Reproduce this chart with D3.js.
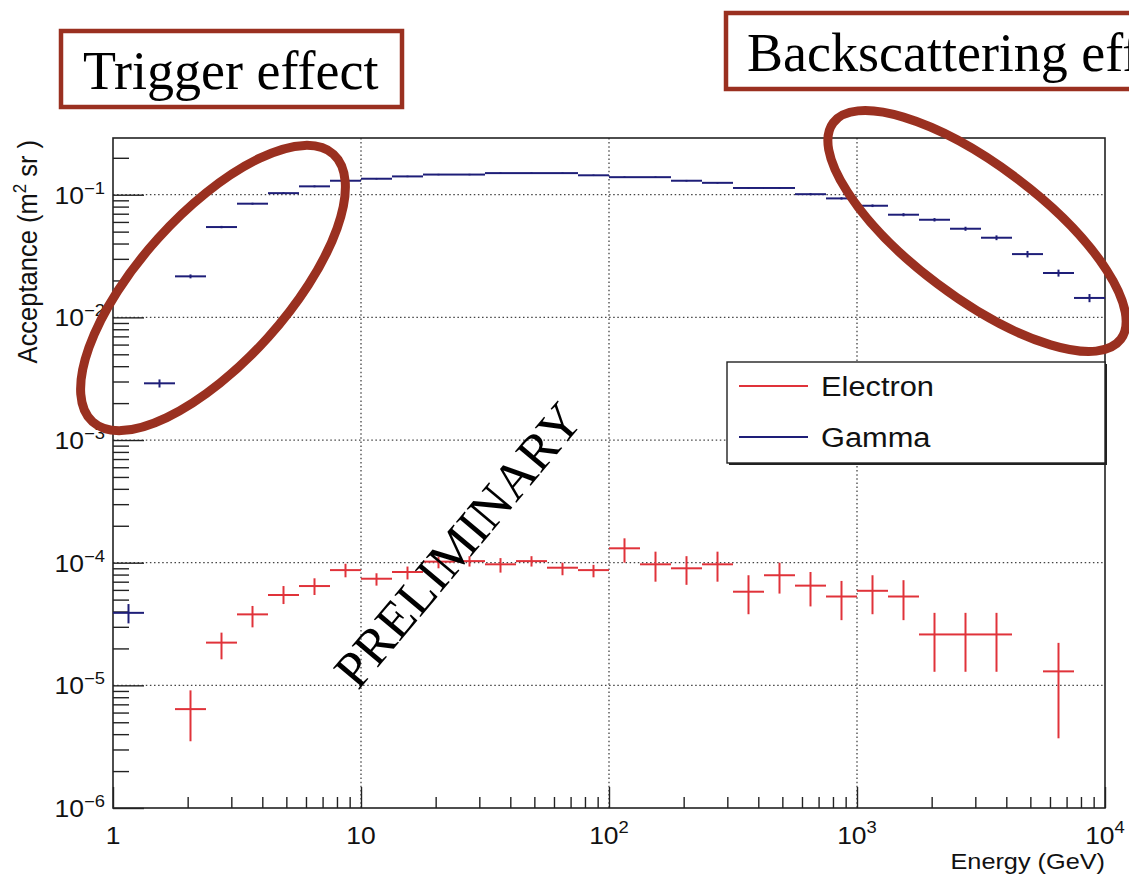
<!DOCTYPE html>
<html><head><meta charset="utf-8">
<script src="https://cdn.jsdelivr.net/npm/d3@7"></script>
<style>html,body{margin:0;padding:0;background:#fff;} svg{display:block;}</style>
</head><body>
<script>
// Energy binning: 8 logarithmic bins per decade, 1 GeV .. 10 TeV
const binsPerDecade = 8;
const nBins = 32;
const binEdges = d3.range(nBins + 1).map(i => Math.pow(10, i / binsPerDecade));

// Gamma acceptance (m^2 sr) per bin and its statistical error
const gammaAcc = [3.9e-5, 0.0029, 0.0216, 0.0545, 0.0845, 0.103, 0.117, 0.130,
  0.135, 0.141, 0.146, 0.146, 0.150, 0.150, 0.150, 0.144,
  0.139, 0.139, 0.130, 0.125, 0.1135, 0.1135, 0.101, 0.0933,
  0.0813, 0.0687, 0.0625, 0.0528, 0.0446, 0.0328, 0.0230, 0.0144];
const gammaErr = [0.7e-5, 0.00022, 0.0008, 0.0012, 0.0015, 0.0018, 0.002, 0.002,
  0.002, 0.002, 0.002, 0.002, 0.002, 0.002, 0.002, 0.002,
  0.002, 0.002, 0.002, 0.002, 0.002, 0.002, 0.002, 0.002,
  0.002, 0.002, 0.002, 0.002, 0.002, 0.002, 0.0015, 0.0011];

// Electron acceptance (m^2 sr) with upper / lower error-bar ends; null = empty bin
const electronAcc = [null, null, 6.4e-6, 2.23e-5, 3.79e-5, 5.45e-5, 6.45e-5, 8.7e-5,
  7.4e-5, 8.4e-5, 1.02e-4, 1.03e-4, 9.7e-5, 1.03e-4, 9.1e-5, 8.7e-5,
  1.31e-4, 9.7e-5, 9.0e-5, 9.7e-5, 5.8e-5, 7.9e-5, 6.5e-5, 5.3e-5,
  5.9e-5, 5.3e-5, 2.6e-5, 2.6e-5, 2.6e-5, null, 1.3e-5, null];
const electronHi = [null, null, 9.1e-6, 2.69e-5, 4.44e-5, 6.45e-5, 7.46e-5, 9.8e-5,
  8.2e-5, 9.3e-5, 1.12e-4, 1.13e-4, 1.09e-4, 1.13e-4, 1.0e-4, 9.6e-5,
  1.58e-4, 1.23e-4, 1.13e-4, 1.23e-4, 7.9e-5, 1.0e-4, 8.4e-5, 7.1e-5,
  7.9e-5, 7.2e-5, 3.9e-5, 3.9e-5, 3.9e-5, null, 2.22e-5, null];
const electronLo = [null, null, 3.5e-6, 1.63e-5, 2.97e-5, 4.6e-5, 5.45e-5, 7.6e-5,
  6.5e-5, 7.3e-5, 9.0e-5, 9.3e-5, 8.3e-5, 9.3e-5, 7.9e-5, 7.6e-5,
  1.0e-4, 7.0e-5, 6.6e-5, 7.0e-5, 3.8e-5, 5.6e-5, 4.4e-5, 3.4e-5,
  3.8e-5, 3.4e-5, 1.29e-5, 1.29e-5, 1.29e-5, null, 3.7e-6, null];

// Axis ranges and labelled ticks
const xDomain = [1, 1e4];
const yDomain = [1e-6, 0.29];
const xLabelTicks = [{v: 1, base: "1", exp: ""}, {v: 10, base: "10", exp: ""},
  {v: 100, base: "10", exp: "2"}, {v: 1000, base: "10", exp: "3"}, {v: 10000, base: "10", exp: "4"}];
const yLabelTicks = [{v: 1e-1, exp: "\u22121"}, {v: 1e-2, exp: "\u22122"}, {v: 1e-3, exp: "\u22123"},
  {v: 1e-4, exp: "\u22124"}, {v: 1e-5, exp: "\u22125"}, {v: 1e-6, exp: "\u22126"}];

const seriesNames = ["Electron", "Gamma"];
const colElectron = "#e0333a";
const colGamma = "#1e1e78";
const annoColor = "#9a3020";

const W = 1129, H = 875;
const L = 113, R = 1105, T = 138, B = 808;

const svg = d3.select("body").append("svg").attr("width", W).attr("height", H)
  .style("font-family", "'Liberation Sans', Arial, sans-serif");

const x = d3.scaleLog().domain(xDomain).range([L, R]);
const y = d3.scaleLog().domain(yDomain).range([B, T]);

const isMajor = v => Math.abs(Math.log10(v) - Math.round(Math.log10(v))) < 1e-9;

// Dotted grid at each decade
const grid = svg.append("g").attr("stroke", "#444").attr("stroke-width", 1.3)
  .attr("stroke-dasharray", "1.5 2.6");
grid.selectAll("line.gx").data([10, 100, 1000]).join("line")
  .attr("x1", d => x(d)).attr("x2", d => x(d)).attr("y1", T).attr("y2", B);
grid.selectAll("line.gy").data([1e-5, 1e-4, 1e-3, 1e-2, 1e-1]).join("line")
  .attr("x1", L).attr("x2", R).attr("y1", d => y(d)).attr("y2", d => y(d));

// Ticks drawn inward from the frame, using d3 axes
const yTicks = y.ticks().filter(v => v <= yDomain[1]);
const xTicks = x.ticks();
function tickAxis(axis, values, size, transform) {
  const g = svg.append("g").attr("transform", transform)
    .call(axis.tickValues(values).tickSize(size).tickSizeOuter(0).tickFormat(""));
  g.select(".domain").remove();
  g.selectAll("line").attr("stroke", "#222").attr("stroke-width", 1.4);
}
tickAxis(d3.axisRight(y), yTicks.filter(v => !isMajor(v)), 16, `translate(${L},0)`);
tickAxis(d3.axisRight(y), yTicks.filter(isMajor), 31, `translate(${L},0)`);
tickAxis(d3.axisTop(x), xTicks.filter(v => !isMajor(v)), 11, `translate(0,${B})`);
tickAxis(d3.axisTop(x), xTicks.filter(isMajor), 21, `translate(0,${B})`);

// Frame
svg.append("rect").attr("x", L).attr("y", T).attr("width", R - L).attr("height", B - T)
  .attr("fill", "none").attr("stroke", "#222").attr("stroke-width", 1.6);

// Tick labels (slightly wide glyphs)
const sx = 1.15;
xLabelTicks.forEach(t => {
  const g = svg.append("g").attr("transform", `translate(${x(t.v)},844) scale(${sx},1)`);
  const tx = g.append("text").attr("text-anchor", "middle").attr("font-size", 23).attr("fill", "#111");
  tx.append("tspan").text(t.base);
  if (t.exp) tx.append("tspan").attr("dy", -11).attr("font-size", 16).text(t.exp);
});
yLabelTicks.forEach(t => {
  const g = svg.append("g").attr("transform", `translate(105,${y(t.v) + 9}) scale(${sx},1)`);
  const tx = g.append("text").attr("text-anchor", "end").attr("font-size", 23).attr("fill", "#111");
  tx.append("tspan").text("10");
  tx.append("tspan").attr("dy", -10).attr("font-size", 16).text(t.exp);
});

// Axis titles
svg.append("g").attr("transform", `translate(${R},869) scale(${sx},1)`)
  .append("text").attr("text-anchor", "end").attr("font-size", 22).attr("fill", "#111")
  .text("Energy (GeV)");
{
  const tx = svg.append("g").attr("transform", `translate(37,${T + 2}) rotate(-90) scale(1,1.1)`)
    .append("text").attr("text-anchor", "end").attr("font-size", 25.5).attr("fill", "#111");
  tx.append("tspan").text("Acceptance (m");
  tx.append("tspan").attr("dy", -10).attr("font-size", 17).text("2");
  tx.append("tspan").attr("dy", 10).text(" sr )");
}

// Histogram points: horizontal bar over the bin, vertical error bar at bin centre
function drawHist(vals, hi, lo, color) {
  const g = svg.append("g").attr("stroke", color).attr("stroke-width", 2).attr("fill", "none");
  vals.forEach((v, k) => {
    if (v == null) return;
    const x0 = x(binEdges[k]), x1 = x(binEdges[k + 1]);
    const xc = x(Math.sqrt(binEdges[k] * binEdges[k + 1]));
    g.append("line").attr("x1", x0).attr("x2", x1).attr("y1", y(v)).attr("y2", y(v));
    g.append("line").attr("x1", xc).attr("x2", xc).attr("y1", y(hi[k])).attr("y2", y(lo[k]));
  });
}
drawHist(electronAcc, electronHi, electronLo, colElectron);
drawHist(gammaAcc, gammaAcc.map((v, i) => v + gammaErr[i]), gammaAcc.map((v, i) => v - gammaErr[i]), colGamma);

// Legend
const lg = svg.append("g");
lg.append("rect").attr("x", 729).attr("y", 364).attr("width", 378).attr("height", 101).attr("fill", "#222");
lg.append("rect").attr("x", 727).attr("y", 362).attr("width", 378).attr("height", 101)
  .attr("fill", "#fff").attr("stroke", "#222").attr("stroke-width", 1.4);
[colElectron, colGamma].forEach((c, i) => {
  const yy = 386 + i * 51;
  lg.append("line").attr("x1", 739).attr("x2", 808).attr("y1", yy).attr("y2", yy)
    .attr("stroke", c).attr("stroke-width", 2);
  lg.append("g").attr("transform", `translate(821,${yy + 10}) scale(1.1,1)`)
    .append("text").attr("font-size", 28).attr("fill", "#111").text(seriesNames[i]);
});

// PRELIMINARY watermark
svg.append("text").attr("transform", "translate(458,545) rotate(-50)")
  .attr("text-anchor", "middle").attr("dominant-baseline", "central")
  .attr("font-family", "'Liberation Serif', 'Times New Roman', serif")
  .attr("font-size", 52).attr("fill", "#000").text("PRELIMINARY");

// Highlight ellipses
const ell = svg.append("g").attr("fill", "none").attr("stroke", annoColor).attr("stroke-width", 9);
ell.append("ellipse").attr("transform", "translate(213,288) rotate(-48)").attr("rx", 180).attr("ry", 74);
ell.append("ellipse").attr("transform", "translate(977,231) rotate(37)").attr("rx", 180).attr("ry", 66);

// Annotation boxes
const serif = "'Liberation Serif', 'Times New Roman', serif";
function annoBox(x0, y0, w, h, label, tx, ty) {
  svg.append("rect").attr("x", x0).attr("y", y0).attr("width", w).attr("height", h)
    .attr("fill", "#fff").attr("stroke", annoColor).attr("stroke-width", 4.5);
  svg.append("text").attr("x", tx).attr("y", ty).attr("font-family", serif)
    .attr("font-size", 54).attr("fill", "#000").text(label);
}
annoBox(61, 31, 341, 76, "Trigger effect", 83, 89);
annoBox(726, 13, 480, 76, "Backscattering effect", 747, 71);
</script>
</body></html>
